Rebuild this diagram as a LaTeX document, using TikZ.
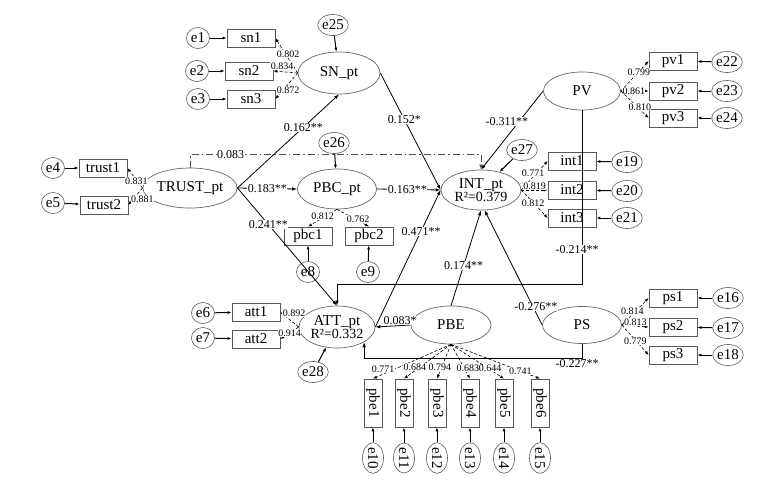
\documentclass[tikz,border=0pt]{standalone}
\usepackage{fontspec}
\setmainfont{Liberation Serif}
\usepackage{tikz}
\usetikzlibrary{shapes.geometric,arrows.meta}
\tikzset{
  font={\fontsize{15pt}{16pt}\selectfont},
  lat/.style={ellipse,draw=black!60,line width=0.7pt,inner sep=0pt,align=center,font={\fontsize{15pt}{13pt}\selectfont}},
  obs/.style={rectangle,draw=black!65,line width=0.7pt,minimum width=48pt,minimum height=18pt,inner sep=0pt},
  err/.style={ellipse,draw=black!65,line width=0.6pt,minimum width=23pt,minimum height=21pt,inner sep=0pt},
  reg/.style={draw,line width=0.8pt,-{Latex[length=5pt,width=3.5pt]}},
  ld/.style={draw,dash pattern=on 3pt off 2pt,line width=0.6pt,-{Latex[length=4pt,width=3pt]}},
  ea/.style={draw,line width=1pt,-{Latex[length=4pt,width=3pt]}},
  coef/.style={fill=white,inner sep=0.5pt,font={\fontsize{12pt}{12pt}\selectfont}},
  lw/.style={fill=white,inner sep=0.3pt,font={\fontsize{10pt}{10pt}\selectfont}}}

\begin{document}
\begin{tikzpicture}[x=1pt,y=1pt]
\useasboundingbox (0,0) rectangle (777,-485);
\node [lat,minimum width=82pt,minimum height=42pt] (SN) at (339,-73) {SN\_pt};
\node [lat,minimum width=92pt,minimum height=40pt] (TRUST) at (190,-188) {TRUST\_pt};
\node [lat,minimum width=79pt,minimum height=40pt] (PBC) at (337,-189) {PBC\_pt};
\node [lat,minimum width=80pt,minimum height=40pt] (INT) at (481,-190) {INT\_pt\\{\fontsize{14pt}{13pt}\selectfont R²=0.379}};
\node [lat,minimum width=77pt,minimum height=38pt] (PV) at (582,-91) {PV};
\node [lat,minimum width=76pt,minimum height=42pt] (ATT) at (337,-327) {ATT\_pt\\{\fontsize{14pt}{13pt}\selectfont R²=0.332}};
\node [lat,minimum width=80pt,minimum height=38pt] (PBE) at (451,-325) {PBE};
\node [lat,minimum width=79pt,minimum height=37pt] (PS) at (582,-325) {PS};
\node [obs] (sn1) at (251,-38) {sn1};
\node [obs] (sn2) at (249,-71) {sn2};
\node [obs] (sn3) at (251,-99) {sn3};
\node [obs] (trust1) at (103,-168) {trust1};
\node [obs] (trust2) at (104,-205) {trust2};
\node [obs] (pbc1) at (308,-236) {pbc1};
\node [obs] (pbc2) at (369,-236) {pbc2};
\node [obs] (pv1) at (673,-61) {pv1};
\node [obs] (pv2) at (673,-91) {pv2};
\node [obs] (pv3) at (673,-118) {pv3};
\node [obs] (int1) at (572,-161) {int1};
\node [obs] (int2) at (572,-190) {int2};
\node [obs] (int3) at (572,-218) {int3};
\node [obs] (att1) at (256,-312) {att1};
\node [obs] (att2) at (256,-339) {att2};
\node [obs] (ps1) at (673,-298) {ps1};
\node [obs] (ps2) at (673,-327) {ps2};
\node [obs] (ps3) at (673,-355) {ps3};
\node [obs,rotate=-90] (pbe1) at (373,-403) {pbe1};
\node [obs,rotate=-90] (pbe2) at (404,-403) {pbe2};
\node [obs,rotate=-90] (pbe3) at (437,-403) {pbe3};
\node [obs,rotate=-90] (pbe4) at (470,-403) {pbe4};
\node [obs,rotate=-90] (pbe5) at (504,-403) {pbe5};
\node [obs,rotate=-90] (pbe6) at (540,-403) {pbe6};
\node [err] (e1) at (198,-38) {e1};
\node [err] (e2) at (197,-71) {e2};
\node [err] (e3) at (198,-99) {e3};
\node [err] (e4) at (53,-168) {e4};
\node [err] (e5) at (53,-203) {e5};
\node [err] (e6) at (203,-313) {e6};
\node [err] (e7) at (203,-338) {e7};
\node [err] (e8) at (308,-272) {e8};
\node [err] (e9) at (368,-272) {e9};
\node [err,rotate=-90] (e10) at (373,-458) {e10};
\node [err,rotate=-90] (e11) at (404,-458) {e11};
\node [err,rotate=-90] (e12) at (437,-458) {e12};
\node [err,rotate=-90] (e13) at (470,-458) {e13};
\node [err,rotate=-90] (e14) at (504,-458) {e14};
\node [err,rotate=-90] (e15) at (540,-458) {e15};
\node [err] (e16) at (728,-298) {e16};
\node [err] (e17) at (728,-328) {e17};
\node [err] (e18) at (728,-355) {e18};
\node [err] (e19) at (627,-162) {e19};
\node [err] (e20) at (627,-191) {e20};
\node [err] (e21) at (627,-218) {e21};
\node [err] (e22) at (727,-62) {e22};
\node [err] (e23) at (727,-91) {e23};
\node [err] (e24) at (727,-118) {e24};
\node [err] (e25) at (333,-25) {e25};
\node [err] (e26) at (334,-143) {e26};
\node [err] (e27) at (522,-150) {e27};
\node [err] (e28) at (313,-372) {e28};
\draw [ea] (e1) -- (sn1);
\draw [ea] (e2) -- (sn2);
\draw [ea] (e3) -- (sn3);
\draw [ea] (e4) -- (trust1);
\draw [ea] (e5) -- (trust2);
\draw [ea] (e6) -- (att1);
\draw [ea] (e7) -- (att2);
\draw [ea] (e8) -- (pbc1);
\draw [ea] (e9) -- (pbc2);
\draw [ea] (e10) -- (pbe1.east);
\draw [ea] (e11) -- (pbe2.east);
\draw [ea] (e12) -- (pbe3.east);
\draw [ea] (e13) -- (pbe4.east);
\draw [ea] (e14) -- (pbe5.east);
\draw [ea] (e15) -- (pbe6.east);
\draw [ea] (e16) -- (ps1);
\draw [ea] (e17) -- (ps2);
\draw [ea] (e18) -- (ps3);
\draw [ea] (e19) -- (int1);
\draw [ea] (e20) -- (int2);
\draw [ea] (e21) -- (int3);
\draw [ea] (e22) -- (pv1);
\draw [ea] (e23) -- (pv2);
\draw [ea] (e24) -- (pv3);
\draw [ea] (e25) -- (SN);
\draw [ea] (e26) -- (PBC);
\draw [ea] (e27) -- (INT);
\draw [ea] (e28) -- (ATT);
\draw [ld] (SN.west) -- node [lw,xshift=1.5pt,yshift=1.5pt] {0.802} (sn1.east);
\draw [ld] (SN.west) -- node [lw,xshift=-3.5pt,yshift=6pt] {0.834} (sn2.east);
\draw [ld] (SN.west) -- node [lw,xshift=1.5pt,yshift=-4pt] {0.872} (sn3.east);
\draw [ld] (TRUST.west) -- node [lw,xshift=1.5pt,yshift=-3pt] {0.831} (trust1.east);
\draw [ld] (TRUST.west) -- node [lw,xshift=7pt,yshift=-2.5pt] {0.881} (trust2.east);
\draw [ld] (PBC.south) -- node [lw,yshift=2pt] {0.812} (pbc1.north);
\draw [ld] (PBC.south) -- node [lw,xshift=5pt,yshift=-1pt] {0.762} (pbc2.north);
\draw [ld] (PV.east) -- node [lw,xshift=4pt,yshift=4pt] {0.799} (pv1.west);
\draw [ld] (PV.east) -- node [lw,xshift=-1pt] {0.861} (pv2.west);
\draw [ld] (PV.east) -- node [lw,xshift=5pt,yshift=-2.5pt] {0.810} (pv3.west);
\draw [ld] (INT.east) -- node [lw,xshift=-1.5pt,yshift=2.5pt] {0.771} (int1.west);
\draw [ld] (INT.east) -- node [lw,yshift=4pt] {0.819} (int2.west);
\draw [ld] (INT.east) -- node [lw,xshift=-1.5pt,yshift=1pt] {0.812} (int3.west);
\draw [ld] (ATT.west) -- node [lw,xshift=4.5pt,yshift=6.5pt] {0.892} (att1.east);
\draw [ld] (ATT.west) -- node [lw] {0.914} (att2.east);
\draw [ld] (PS.east) -- node [lw,xshift=-3pt] {0.814} (ps1.west);
\draw [ld] (PS.east) -- node [lw,yshift=4pt] {0.813} (ps2.west);
\draw [ld] (PS.east) -- node [lw,yshift=-1pt] {0.779} (ps3.west);
\draw [ld] (PBE.south) -- node [lw,pos=0.87,yshift=4.5pt] {0.771} (pbe1.west);
\draw [ld] (PBE.south) -- node [lw,pos=0.77,yshift=4pt] {0.684} (pbe2.west);
\draw [ld] (PBE.south) -- node [lw,pos=0.79,yshift=4.5pt] {0.794} (pbe3.west);
\draw [ld] (PBE.south) -- node [lw,pos=0.89,yshift=7pt] {0.683} (pbe4.west);
\draw [ld] (PBE.south) -- node [lw,pos=0.74,yshift=1pt] {0.644} (pbe5.west);
\draw [ld] (PBE.south) -- node [lw,pos=0.78] {0.741} (pbe6.west);
\draw [reg,draw=black!70,dash pattern=on 7pt off 3pt on 1.5pt off 3pt] (TRUST.north) -- ++(0,13) -| node [coef,pos=0.07] {0.083} (INT.north);
\draw [reg] (TRUST.east) -- node [coef,pos=0.65] {0.162**} (SN.south);
\draw [reg] (SN.east) -- node [coef,pos=0.4] {0.152*} (INT.west);
\draw [reg] (TRUST.east) -- node [coef,pos=0.5] {0.183**} (PBC.west);
\draw [reg] (PBC.east) -- node [coef,pos=0.48] {0.163**} (INT.west);
\draw [reg] (TRUST.east) -- node [coef,pos=0.31] {0.241**} (ATT.north);
\draw [reg] (ATT.east) -- node [coef,pos=0.7] {0.471**} (INT.west);
\draw [reg] (PV.west) -- node [coef,pos=0.39,xshift=-12pt] {-0.311**} (INT.north);
\draw [reg] (PBE.north) -- node [coef,pos=0.42] {0.174**} (INT.south);
\draw [reg] (PS.west) -- node [coef,pos=0.16,xshift=3pt] {-0.276**} (INT.-80);
\draw [reg] (PBE.west) -- node [coef,above,pos=0.3] {0.083*} (ATT.east);
\draw [reg] (PV.south) -- node [coef,pos=0.8,xshift=-5pt] {-0.214**} ++(0,-174) -| (ATT.north);
\draw [reg] (PS.south) -- ++(0,-15) node [coef,below,xshift=-5pt] {-0.227**} -| (ATT.south east);
\end{tikzpicture}
\end{document}
